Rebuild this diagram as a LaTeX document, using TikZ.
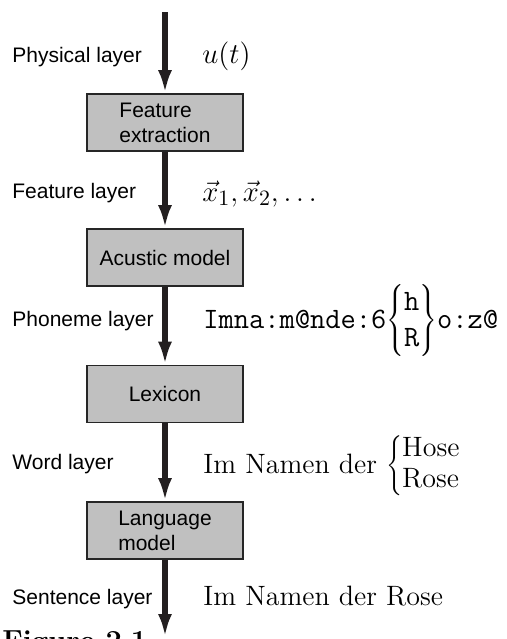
\documentclass[tikz,border=0pt]{standalone}
\usepackage{fontspec}
\setsansfont{Liberation Sans}
\usetikzlibrary{arrows.meta}
\definecolor{boxgray}{HTML}{C0C0C0}
\definecolor{arrowgray}{HTML}{231F20}
\begin{document}
\begin{tikzpicture}[x=0.5pt,y=-0.5pt,
  box/.style={draw=black!85,line width=0.9pt,fill=boxgray,minimum width=78pt,minimum height=28.5pt,inner sep=0pt,font=\sffamily\fontsize{10.5}{12.5}\selectfont,align=left},
  lay/.style={anchor=base west,inner sep=0pt,font=\sffamily\fontsize{10.5}{12.5}\selectfont},
  val/.style={anchor=base west,inner sep=0pt,font=\fontsize{14}{17}\selectfont},
  bigval/.style={val,font=\fontsize{15.2}{18}\selectfont},
  flow/.style={line width=2.6pt,draw=arrowgray,-{Latex[length=11.5pt,width=7pt]}}]
\useasboundingbox (0,0) rectangle (507,639);
\clip (0,0) rectangle (507,639);
% boxes
\node[box] (fe) at (165,122.5) {Feature\\extraction};
\node[box] (am) at (165,257.5) {Acustic model};
\node[box] (lx) at (165,394) {Lexicon};
\node[box] (lm) at (165,530.5) {Language\\model};
\coordinate (top) at (165,12);
\coordinate (bot) at (165,637);
% arrows
\draw[flow] (top) -- (fe.north);
\draw[flow] (fe.south) -- (am.north);
\draw[flow] (am.south) -- (lx.north);
\draw[flow] (lx.south) -- (lm.north);
\draw[flow] (lm.south) -- (bot);
% layer labels
\node[lay] (l1) at (12,62) {Physical layer};
\node[lay] (l2) at (12,198) {Feature layer};
\node[lay] (l3) at (12,326) {Phoneme layer};
\node[lay] (l4) at (12,469) {Word layer};
\node[lay] (l5) at (12,604) {Sentence layer};
% values
\node[bigval] (v1) at (202,63) {$u(t)$};
\node[bigval] (v2) at (202,201) {$\vec{x}_1,\vec{x}_2,\ldots$};
\node[val,font=\fontsize{14.8}{18}\selectfont] (v3) at (203,328) {\texttt{Imna:m@nde:6}$\left\{\begin{array}{@{}c@{}}\texttt{h}\\\texttt{R}\end{array}\right\}$\texttt{o:z@}};
\node[val] (v4) at (203,473) {Im Namen der $\renewcommand\arraystretch{0.9}\left\{\begin{array}{@{}l@{}}\mbox{Hose}\\\mbox{Rose}\end{array}\right.$};
\node[val] (v5) at (203,605) {Im Namen der Rose};
\node[anchor=base west,inner sep=0pt,font=\bfseries\fontsize{14.5}{17}\selectfont] (cap) at (2,650) {Figure 2.1};
\end{tikzpicture}
\end{document}
